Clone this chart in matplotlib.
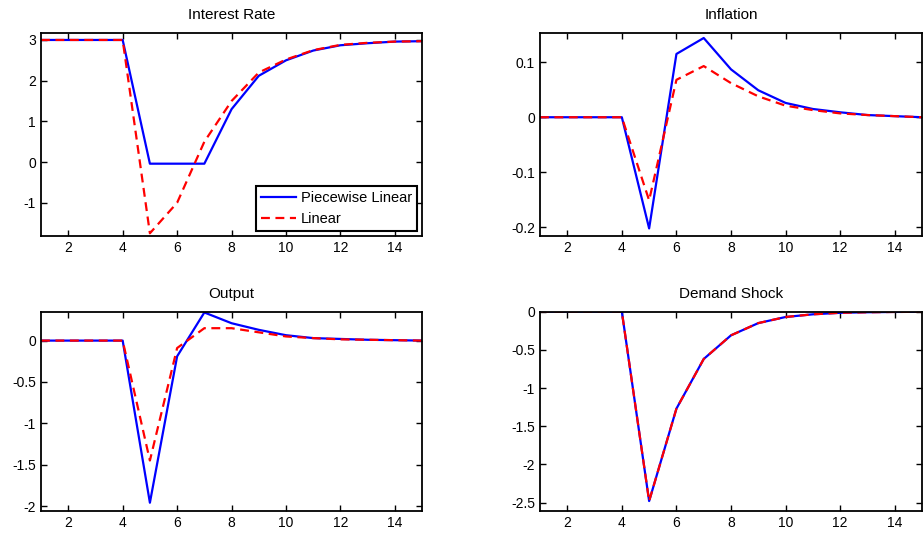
import numpy as np
import matplotlib.pyplot as plt

plt.rcParams['font.family'] = ['Liberation Sans', 'DejaVu Sans']

# periods
t = np.arange(1, 16)

# interest rate
rate_pw = [3, 3, 3, 3, -0.04, -0.04, -0.04, 1.3, 2.12, 2.5, 2.74, 2.87, 2.92, 2.96, 2.97]
rate_lin = [3, 3, 3, 3, -1.75, -1.0, 0.5, 1.5, 2.2, 2.52, 2.75, 2.88, 2.93, 2.96, 2.97]

# inflation
infl_pw = [0, 0, 0, 0, -0.202, 0.115, 0.144, 0.087, 0.049, 0.026, 0.015, 0.009, 0.004, 0.002, 0]
infl_lin = [0, 0, 0, 0, -0.151, 0.068, 0.093, 0.062, 0.038, 0.021, 0.013, 0.007, 0.004, 0.002, 0]

# output
out_pw = [0, 0, 0, 0, -1.96, -0.19, 0.34, 0.21, 0.13, 0.065, 0.03, 0.02, 0.01, 0.005, 0]
out_lin = [0, 0, 0, 0, -1.45, -0.09, 0.15, 0.15, 0.10, 0.05, 0.03, 0.015, 0.01, 0.005, 0]

# demand shock (same in both models)
shock_pw = [0, 0, 0, 0, -2.48, -1.27, -0.62, -0.31, -0.15, -0.07, -0.035, -0.015, -0.008, -0.004, -0.002]
shock_lin = shock_pw

panels = [
    ('Interest Rate', rate_pw, rate_lin, (-1.82, 3.17), [-1, 0, 1, 2, 3], ['-1', '0', '1', '2', '3']),
    ('Inflation', infl_pw, infl_lin, (-0.216, 0.153), [-0.2, -0.1, 0, 0.1], ['-0.2', '-0.1', '0', '0.1']),
    ('Output', out_pw, out_lin, (-2.06, 0.35), [-2, -1.5, -1, -0.5, 0], ['-2', '-1.5', '-1', '-0.5', '0']),
    ('Demand Shock', shock_pw, shock_lin, (-2.61, 0.0), [-2.5, -2, -1.5, -1, -0.5, 0],
     ['-2.5', '-2', '-1.5', '-1', '-0.5', '0']),
]

positions = [
    [0.0444, 0.557, 0.413, 0.381],
    [0.585, 0.557, 0.414, 0.381],
    [0.0444, 0.0413, 0.413, 0.374],
    [0.585, 0.0413, 0.414, 0.374],
]

fig = plt.figure(figsize=(9.23, 5.33), dpi=100)

for i, (title, pw, lin, ylim, yt, ytl) in enumerate(panels):
    ax = fig.add_axes(positions[i])
    ax.plot(t, pw, color='blue', lw=1.6, label='Piecewise Linear')
    ax.plot(t, lin, color='red', lw=1.6, ls=(0, (4, 2.5)), label='Linear')
    ax.set_xlim(1, 15)
    ax.set_ylim(*ylim)
    ax.set_xticks([2, 4, 6, 8, 10, 12, 14])
    ax.set_yticks(yt)
    ax.set_yticklabels(ytl)
    ax.set_title(title, fontsize=11, pad=10)
    ax.tick_params(direction='in', top=True, right=True, length=4, labelsize=10, width=1)
    for s in ax.spines.values():
        s.set_linewidth(1.3)
    if i == 0:
        leg = ax.legend(loc='lower right', fontsize=10.5, fancybox=False, framealpha=1,
                        edgecolor='black', borderaxespad=0.35, handlelength=2.4,
                        borderpad=0.35, labelspacing=0.45, handletextpad=0.3)
        leg.get_frame().set_linewidth(1.5)

fig.savefig('out.png', dpi=100)
